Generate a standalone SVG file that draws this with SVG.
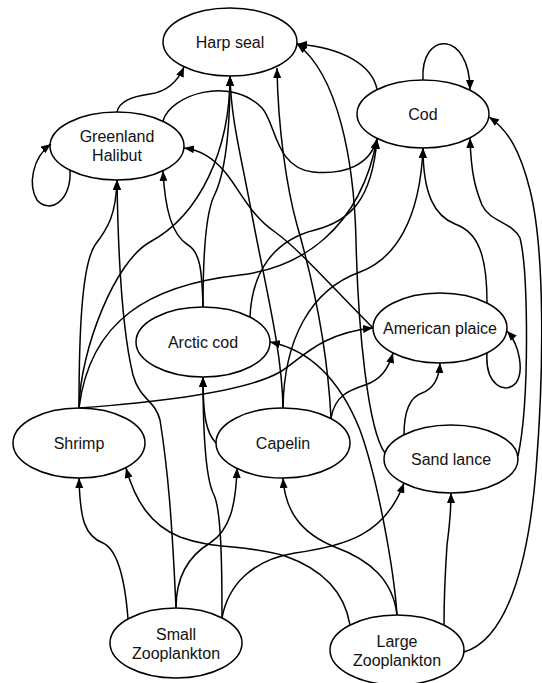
<svg xmlns="http://www.w3.org/2000/svg" width="542" height="683" viewBox="0 0 542 683">
<style>
.n ellipse{fill:#fff;stroke:#000;stroke-width:1.5}
.n text{font-family:"Liberation Sans",Arial,sans-serif;font-size:16px;fill:#111;text-anchor:middle}
#edges path{fill:none;stroke:#000;stroke-width:1.5;marker-end:url(#ah)}
</style>
<defs>
<marker id="ah" viewBox="0 0 10 8" refX="10" refY="4" markerWidth="10" markerHeight="8" orient="auto" markerUnits="userSpaceOnUse"><path d="M0,0L10,4L0,8z" fill="#000"/></marker>
</defs>
<rect width="542" height="683" fill="#fff"/>
<g id="harp_seal" class="n"><ellipse cx="230" cy="42" rx="67" ry="34"/><text x="230" y="48">Harp seal</text></g>
<g id="cod" class="n"><ellipse cx="423" cy="114" rx="66" ry="34"/><text x="423" y="120">Cod</text></g>
<g id="greenland_halibut" class="n"><ellipse cx="117" cy="146" rx="67" ry="34"/><text x="117" y="142">Greenland</text><text x="117" y="161">Halibut</text></g>
<g id="arctic_cod" class="n"><ellipse cx="203" cy="342" rx="67" ry="35"/><text x="203" y="348">Arctic cod</text></g>
<g id="american_plaice" class="n"><ellipse cx="440" cy="328" rx="67" ry="35"/><text x="440" y="334">American plaice</text></g>
<g id="shrimp" class="n"><ellipse cx="79" cy="443" rx="66" ry="35"/><text x="79" y="449">Shrimp</text></g>
<g id="capelin" class="n"><ellipse cx="283" cy="443" rx="67" ry="35"/><text x="283" y="449">Capelin</text></g>
<g id="sand_lance" class="n"><ellipse cx="451" cy="459" rx="67" ry="34"/><text x="451" y="465">Sand lance</text></g>
<g id="small_zooplankton" class="n"><ellipse cx="176" cy="643" rx="66" ry="35"/><text x="176" y="640">Small</text><text x="176" y="659">Zooplankton</text></g>
<g id="large_zooplankton" class="n"><ellipse cx="397" cy="650" rx="67" ry="35"/><text x="397" y="647">Large</text><text x="397" y="666">Zooplankton</text></g>
<g id="edges">
<path d="M117,112 C119,100 135,96 150,94 C165,92 177,83 184,67"/>
<path d="M377,89 C372,66 345,48 297,44"/>
<path d="M385,453 C368,430 358,330 356,240 C354,160 338,75 297,44"/>
<path d="M79,408 C80,350 115,261 150,242 C200,215 230,150 230,76"/>
<path d="M203,307 C203,265 205,215 214,196 C224,176 230,140 230,76"/>
<path d="M283,408 C282,350 265,285 252,215 C241,155 231,120 230,76"/>
<path d="M331,418 C327,340 310,270 297,225 C287,189 278,130 277,68"/>
<path d="M423,80 C420,30 470,30 470,90"/>
<path d="M163,121 C170,95 230,75 262,108 C276,123 275,168 313,172 C345,175 370,165 377,139"/>
<path d="M79,408 C90,320 150,285 240,275 C300,268 360,230 377,139"/>
<path d="M250,317 C252,270 275,240 315,230 C350,221 372,200 377,139"/>
<path d="M283,408 C284,340 310,290 360,272 C395,259 420,220 423,148"/>
<path d="M487,303 C487,255 478,232 455,224 C435,216 423,195 423,148"/>
<path d="M518,456 C530,400 528,270 520,238 C512,222 490,222 482,205 C476,190 471,175 470,138"/>
<path d="M464,652 C505,640 528,570 536,470 C544,370 545,250 530,190 C520,150 508,130 489,117"/>
<path d="M70,170 C72,200 50,215 37,200 C28,185 32,158 51,144"/>
<path d="M79,408 C79,330 82,265 95,245 C108,228 116,215 117,180"/>
<path d="M176,608 C172,520 168,470 160,420 C155,400 140,400 133,375 C122,330 118,250 117,180"/>
<path d="M203,307 C202,270 200,252 188,245 C172,235 165,210 163,171"/>
<path d="M373,328 C330,285 300,250 275,232 C250,215 240,190 225,172 C212,157 200,150 184,148"/>
<path d="M216,443 C206,433 203,415 203,377"/>
<path d="M222,618 C222,560 221,510 214,495 C207,482 203,450 203,377"/>
<path d="M397,615 C394,570 378,480 360,430 C340,380 310,350 270,342"/>
<path d="M79,408 C160,402 245,392 280,372 C300,360 320,333 373,328"/>
<path d="M331,418 C335,395 350,390 365,385 C380,380 388,370 393,353"/>
<path d="M404,435 C404,410 410,397 422,393 C433,389 439,380 440,363"/>
<path d="M487,353 C485,385 505,395 516,383 C524,372 520,345 507,331"/>
<path d="M128,619 C125,580 118,550 103,543 C85,536 80,520 79,478"/>
<path d="M350,625 C345,595 325,570 285,556 C245,544 215,550 180,537 C150,525 135,500 126,468"/>
<path d="M176,608 C176,575 190,555 210,543 C230,530 236,505 237,468"/>
<path d="M397,615 C393,580 370,560 335,547 C300,533 285,510 283,478"/>
<path d="M222,618 C228,585 252,560 295,553 C345,546 385,535 404,483"/>
<path d="M444,625 C444,590 446,560 447,545 C449,530 451,515 451,493"/>
</g>
</svg>
